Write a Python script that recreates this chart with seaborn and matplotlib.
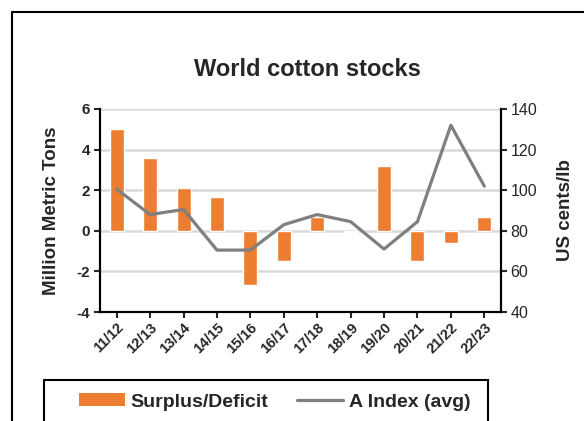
import matplotlib
matplotlib.use('Agg')
import matplotlib.pyplot as plt
from matplotlib.lines import Line2D
from matplotlib.patches import Patch, Rectangle
import seaborn as sns
import pandas as pd
import numpy as np

seasons = ['11/12', '12/13', '13/14', '14/15', '15/16', '16/17',
           '17/18', '18/19', '19/20', '20/21', '21/22', '22/23']
surplus = [5.0, 3.6, 2.1, 1.65, -2.65, -1.5, 0.7, -0.05, 3.2, -1.5, -0.62, 0.7]
a_index = [100.5, 88, 90.5, 70.5, 70.5, 83, 88, 84.5, 71, 84.5, 132, 102]

left_ticks = [-4, -2, 0, 2, 4, 6]
right_ticks = [40, 60, 80, 100, 120, 140]

orange = '#ED7D31'
gray = '#7F7F7F'

df = pd.DataFrame({'season': seasons, 'surplus': surplus, 'a_index': a_index})

sns.set_style('white')
plt.rcParams['font.family'] = ['Liberation Sans', 'DejaVu Sans']
plt.rcParams['axes.unicode_minus'] = False

fig = plt.figure(figsize=(5.84, 4.21), dpi=100)
ax = fig.add_axes([100 / 584, 1 - 312 / 421, 401 / 584, 203 / 421])

sns.barplot(data=df, x='season', y='surplus', color=orange, width=0.42,
            saturation=1, ax=ax, zorder=2)
ax.set_ylim(-4, 6)
ax.set_yticks(left_ticks)
ax.set_xlim(-0.5, len(seasons) - 0.5)
ax.yaxis.grid(True, color='#D9D9D9', linewidth=1.8, zorder=0)
ax.set_axisbelow(True)
ax.set_xlabel('')
ax.set_ylabel('Million Metric Tons', fontsize=13.5, fontweight='bold', labelpad=12)

ax2 = ax.twinx()
sns.lineplot(data=df, x='season', y='a_index', color=gray, linewidth=2.3,
             ax=ax2, sort=False)
ax2.set_ylim(40, 140)
ax2.set_yticks(right_ticks)
ax2.set_ylabel('US cents/lb', fontsize=13.5, fontweight='bold', labelpad=14)
ax2.set_xlim(-0.5, len(seasons) - 0.5)

for a in (ax, ax2):
    a.spines['top'].set_visible(False)
    for side in ('left', 'right', 'bottom'):
        a.spines[side].set_color('black')
        a.spines[side].set_linewidth(1.5)
    a.tick_params(axis='y', direction='out', length=4, width=1.5,
                  labelsize=11, pad=3)
for lab in ax.get_yticklabels():
    lab.set_fontweight('bold')
for lab in ax2.get_yticklabels():
    lab.set_fontsize(11.5)

ax.tick_params(axis='x', direction='out', length=4, width=1.5, pad=2, bottom=True)
ax.set_xticks(range(len(seasons)))
ax.set_xticklabels(seasons, rotation=45, ha='right', rotation_mode='anchor',
                   fontsize=10.5, fontweight='bold')

fig.text(307 / 584, 1 - 70 / 421, 'World cotton stocks', ha='center', va='center',
         fontsize=17, fontweight='bold')

handles = [Patch(facecolor=orange, edgecolor='none'),
           Line2D([0], [0], color=gray, linewidth=2.3)]
leg = fig.legend(handles, ['Surplus/Deficit', 'A Index (avg)'], ncol=2,
                 loc='center left', bbox_to_anchor=(79 / 584, 1 - 402 / 421),
                 frameon=False, handlelength=2.35, handleheight=0.65,
                 handletextpad=0.3, columnspacing=1.5, borderpad=0,
                 borderaxespad=0,
                 prop={'weight': 'bold', 'size': 14})

fig.add_artist(Rectangle((44 / 584, 1 - 425 / 421), 444 / 584, 45 / 421,
                         transform=fig.transFigure, fill=False,
                         edgecolor='black', linewidth=1.5, clip_on=False))
fig.add_artist(Line2D([12 / 584, 12 / 584], [0, 1 - 12 / 421], color='black',
                      linewidth=1.5, transform=fig.transFigure))
fig.add_artist(Line2D([12 / 584, 1], [1 - 12 / 421, 1 - 12 / 421], color='black',
                      linewidth=1.5, transform=fig.transFigure))

fig.savefig('out.png', dpi=100)
